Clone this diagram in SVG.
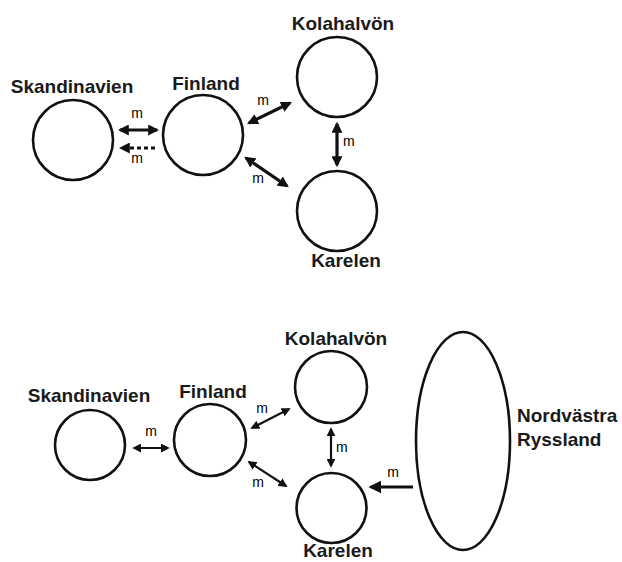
<svg xmlns="http://www.w3.org/2000/svg" width="622" height="562" viewBox="0 0 622 562">
<style>
.node{fill:#fff;stroke:#111;stroke-width:2.6}
.lbl{font-family:"Liberation Sans",Arial,sans-serif;font-weight:bold;font-size:19px;fill:#1a1a1a}
.m{font-family:"Liberation Sans",Arial,sans-serif;font-size:14px;fill:#000}
.c{stroke:#111;stroke-width:3.2;fill:none}
.cb{stroke:#111;stroke-width:2.2;fill:none}
</style>
<defs>
<marker id="ah" viewBox="0 0 10 10" refX="8" refY="5" markerWidth="11" markerHeight="11" markerUnits="userSpaceOnUse" orient="auto-start-reverse">
<path d="M0,0 L10,5 L0,10 z" fill="#111"/>
</marker>
<marker id="ahs" viewBox="0 0 10 10" refX="8" refY="5" markerWidth="9" markerHeight="9" markerUnits="userSpaceOnUse" orient="auto-start-reverse">
<path d="M0,0 L10,5 L0,10 z" fill="#111"/>
</marker>
<marker id="ahb" viewBox="0 0 10 10" refX="8" refY="5" markerWidth="13" markerHeight="13" markerUnits="userSpaceOnUse" orient="auto-start-reverse">
<path d="M0,0 L10,5 L0,10 z" fill="#111"/>
</marker>
</defs>
<g id="top">
<g id="skand1"><circle class="node" cx="73" cy="140" r="40"/><text class="lbl" x="72" y="93" text-anchor="middle">Skandinavien</text></g>
<g id="finland1"><circle class="node" cx="203" cy="135" r="40"/><text class="lbl" x="206" y="90" text-anchor="middle">Finland</text></g>
<g id="kola1"><circle class="node" cx="337" cy="77" r="40"/><text class="lbl" x="343" y="30" text-anchor="middle">Kolahalvön</text></g>
<g id="karelen1"><circle class="node" cx="337" cy="211" r="40"/><text class="lbl" x="346" y="267" text-anchor="middle">Karelen</text></g>
</g>
<g id="bottom">
<g id="skand2"><circle class="node" cx="90" cy="445" r="35"/><text class="lbl" x="89" y="402" text-anchor="middle">Skandinavien</text></g>
<g id="finland2"><circle class="node" cx="210" cy="440" r="36"/><text class="lbl" x="213" y="398" text-anchor="middle">Finland</text></g>
<g id="kola2"><circle class="node" cx="331" cy="387" r="36"/><text class="lbl" x="336" y="345" text-anchor="middle">Kolahalvön</text></g>
<g id="karelen2"><circle class="node" cx="331.5" cy="508" r="35"/><text class="lbl" x="338" y="557" text-anchor="middle">Karelen</text></g>
<g id="nwrussia"><ellipse class="node" cx="463" cy="441" rx="47" ry="109"/><text class="lbl" x="517" y="422">Nordvästra</text><text class="lbl" x="517" y="446">Ryssland</text></g>
</g>
<g id="connectors">
<line class="c" x1="120" y1="130" x2="157" y2="130" marker-start="url(#ah)" marker-end="url(#ah)"/>
<line class="c" x1="155" y1="148" x2="121" y2="148" stroke-dasharray="4,3" stroke-width="4" marker-end="url(#ah)"/>
<line class="c" x1="249" y1="123" x2="290" y2="103" marker-start="url(#ah)" marker-end="url(#ah)"/>
<line class="c" x1="246" y1="158" x2="287" y2="186" marker-start="url(#ah)" marker-end="url(#ah)"/>
<line class="c" x1="337" y1="124" x2="337" y2="165" marker-start="url(#ah)" marker-end="url(#ah)"/>
<line class="cb" x1="134" y1="448" x2="168" y2="448" marker-start="url(#ahs)" marker-end="url(#ahs)"/>
<line class="cb" x1="252" y1="428" x2="289" y2="409" marker-start="url(#ahs)" marker-end="url(#ahs)"/>
<line class="cb" x1="249" y1="462" x2="286" y2="486" marker-start="url(#ahs)" marker-end="url(#ahs)"/>
<line class="cb" x1="331" y1="429" x2="331" y2="466" marker-start="url(#ahs)" marker-end="url(#ahs)"/>
<line class="c" x1="413" y1="487" x2="371" y2="487" stroke-width="4" marker-end="url(#ahb)"/>
<text class="m" x="137" y="118" text-anchor="middle">m</text>
<text class="m" x="137" y="163" text-anchor="middle">m</text>
<text class="m" x="263" y="105" text-anchor="middle">m</text>
<text class="m" x="258" y="183" text-anchor="middle">m</text>
<text class="m" x="343" y="146">m</text>
<text class="m" x="151" y="436" text-anchor="middle">m</text>
<text class="m" x="262" y="413" text-anchor="middle">m</text>
<text class="m" x="258" y="487" text-anchor="middle">m</text>
<text class="m" x="336" y="452">m</text>
<text class="m" x="393" y="477" text-anchor="middle">m</text>
</g>
</svg>
